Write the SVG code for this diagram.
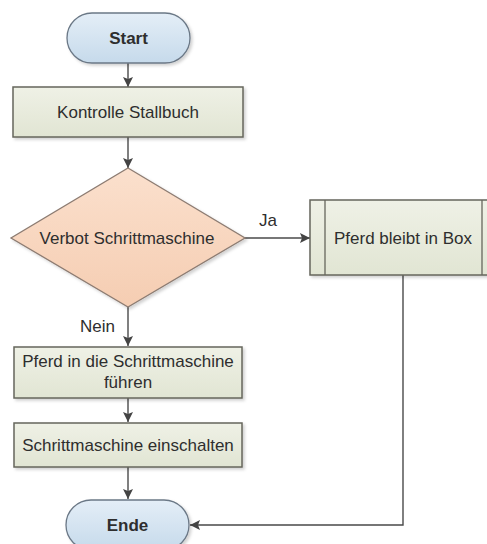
<svg xmlns="http://www.w3.org/2000/svg" width="487" height="544" viewBox="0 0 487 544">
  <defs>
    <linearGradient id="gTerm" x1="0" y1="0" x2="0" y2="1">
      <stop offset="0" stop-color="#e4eef7"/>
      <stop offset="1" stop-color="#c6daeb"/>
    </linearGradient>
    <linearGradient id="gProc" x1="0" y1="0" x2="0" y2="1">
      <stop offset="0" stop-color="#eff1e6"/>
      <stop offset="1" stop-color="#e1e5d3"/>
    </linearGradient>
    <linearGradient id="gDec" x1="0" y1="0" x2="0" y2="1">
      <stop offset="0" stop-color="#fbe0cd"/>
      <stop offset="1" stop-color="#f5cdb2"/>
    </linearGradient>
    <filter id="shadow" x="-10%" y="-10%" width="130%" height="140%">
      <feDropShadow dx="2" dy="2" stdDeviation="1.5" flood-color="#000" flood-opacity="0.18"/>
    </filter>
    <marker id="arrow" viewBox="0 0 10 10" refX="10" refY="5" markerWidth="10" markerHeight="10" markerUnits="userSpaceOnUse" orient="auto">
      <path d="M0,0 L10,5 L0,10 L2,5 Z" fill="#444"/>
    </marker>
  </defs>
  <style>
    .term { fill: url(#gTerm); stroke: #6b7886; stroke-width: 1.3; filter: url(#shadow); }
    .proc { fill: url(#gProc); stroke: #66665c; stroke-width: 1.5; filter: url(#shadow); }
    .dec { fill: url(#gDec); stroke: #8d7c72; stroke-width: 1.3; filter: url(#shadow); }
    .inner { stroke: #66665c; stroke-width: 1.3; fill: none; }
    .conn { fill: none; stroke: #4a4a4a; stroke-width: 1.4; }
    text { font-family: "Liberation Sans", Arial, sans-serif; font-size: 17px; fill: #2e2e2e; text-anchor: middle; }
    .bold { font-weight: bold; }
    .lbl { text-anchor: start; }
  </style>

  <!-- connectors -->
  <g id="connectors">
    <path class="conn" d="M128,63 L128,87" marker-end="url(#arrow)"/>
    <path class="conn" d="M128,137 L128,168" marker-end="url(#arrow)"/>
    <path class="conn" d="M245,238 L310,238" marker-end="url(#arrow)"/>
    <text class="lbl" x="259" y="226">Ja</text>
    <path class="conn" d="M128,307 L128,346" marker-end="url(#arrow)"/>
    <text class="lbl" x="80" y="332">Nein</text>
    <path class="conn" d="M128,398 L128,422" marker-end="url(#arrow)"/>
    <path class="conn" d="M128,467 L128,499" marker-end="url(#arrow)"/>
    <path class="conn" d="M403,275 L403,525 L190,525" marker-end="url(#arrow)"/>
  </g>

  <g id="start">
    <rect class="term" x="67" y="13" width="123" height="50" rx="25" ry="25"/>
    <text class="bold" x="128.5" y="44">Start</text>
  </g>

  <g id="kontrolle">
    <rect class="proc" x="13" y="87" width="230" height="50"/>
    <text x="128" y="118">Kontrolle Stallbuch</text>
  </g>

  <g id="verbot">
    <polygon class="dec" points="128,168 245,238 128,307 11,238"/>
    <text x="127" y="244">Verbot Schrittmaschine</text>
  </g>

  <g id="box">
    <rect class="proc" x="310" y="200" width="187" height="75"/>
    <line class="inner" x1="325" y1="200" x2="325" y2="275"/>
    <line class="inner" x1="482" y1="200" x2="482" y2="275"/>
    <text x="403" y="244">Pferd bleibt in Box</text>
  </g>

  <g id="fuehren">
    <rect class="proc" x="14" y="347" width="228" height="51"/>
    <text x="128" y="367">Pferd in die Schrittmaschine</text>
    <text x="128" y="388">führen</text>
  </g>

  <g id="einschalten">
    <rect class="proc" x="14" y="423" width="228" height="44"/>
    <text x="128" y="451">Schrittmaschine einschalten</text>
  </g>

  <g id="ende">
    <rect class="term" x="66" y="500" width="123" height="50" rx="25" ry="25"/>
    <text class="bold" x="127.5" y="531">Ende</text>
  </g>
</svg>
